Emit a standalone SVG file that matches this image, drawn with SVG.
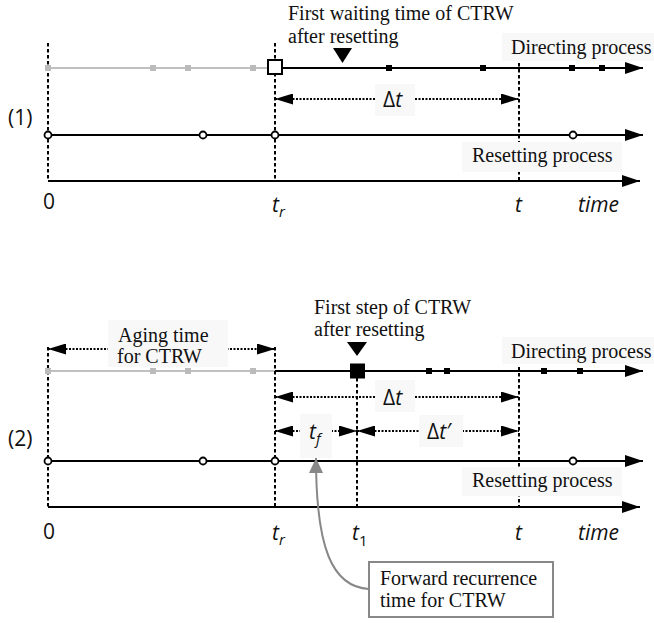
<svg xmlns="http://www.w3.org/2000/svg" width="654" height="623" viewBox="0 0 654 623">
<style>
.serif{font-family:"Liberation Serif","Times New Roman",serif;font-size:20px;fill:#111}
.sans{font-family:"Open Sans","Liberation Sans",sans-serif;font-size:21px;fill:#111}
.it{font-style:italic}
.main{stroke:#000;stroke-width:2;fill:none}
.gray{stroke:#c0c0c0;stroke-width:2;fill:none}
.dash{stroke:#000;stroke-width:2;stroke-dasharray:3.5 2.5;fill:none}
.dot{stroke:#000;stroke-width:1.8;stroke-dasharray:2 1.5;fill:none;marker-start:url(#arrd);marker-end:url(#arrd)}
.bg{fill:#f8f8f8}
.sq{fill:#000}
.gsq{fill:#bbb}
.circ{fill:#fff;stroke:#000;stroke-width:1.8}
</style>
<defs>
<marker id="arr" markerUnits="userSpaceOnUse" markerWidth="18" markerHeight="12" refX="18" refY="6" orient="auto"><path d="M0,0 L18,6 L0,12 z" fill="#000"/></marker>
<marker id="arrd" markerUnits="userSpaceOnUse" markerWidth="18" markerHeight="11" refX="18" refY="5.5" orient="auto-start-reverse"><path d="M0,0 L18,5.5 L0,11 z" fill="#000"/></marker>
<marker id="arrg" markerUnits="userSpaceOnUse" markerWidth="15" markerHeight="14" refX="15" refY="7" orient="auto"><path d="M0,0 L15,7 L0,14 z" fill="#888"/></marker>
</defs>
<rect width="654" height="623" fill="#fff"/>

<!-- Panel 1 -->
<g id="panel1-guides">
<line class="dash" x1="48" y1="43" x2="48" y2="181"/>
<line class="dash" x1="275" y1="43" x2="275" y2="181"/>
<line class="dash" x1="519" y1="63" x2="519" y2="181"/>
</g>
<g id="p1-labels-bg">
<rect class="bg" x="502" y="33" width="152" height="28"/>
<rect class="bg" x="462" y="142" width="160" height="30"/>
</g>
<g id="connectors">
<line class="gray" x1="48" y1="68" x2="268" y2="68"/>
<line class="main" x1="282" y1="68" x2="643" y2="68" marker-end="url(#arr)"/>
<line class="main" x1="48" y1="135" x2="643" y2="135" marker-end="url(#arr)"/>
<line class="main" x1="48" y1="181" x2="640" y2="181" marker-end="url(#arr)"/>
<line class="dot" x1="275" y1="99" x2="519" y2="99"/>

<line class="gray" x1="48" y1="371" x2="275" y2="371"/>
<line class="main" x1="275" y1="371" x2="643" y2="371" marker-end="url(#arr)"/>
<line class="main" x1="48" y1="461" x2="643" y2="461" marker-end="url(#arr)"/>
<line class="main" x1="48" y1="507" x2="640" y2="507" marker-end="url(#arr)"/>
<line class="dot" x1="48" y1="349" x2="275" y2="349"/>
<line class="dot" x1="275" y1="397" x2="519" y2="397"/>
<line class="dot" x1="275" y1="431" x2="357" y2="431"/>
<line class="dot" x1="357" y1="431" x2="519" y2="431"/>
<path d="M369,589 C332,587 316,548 316,458" stroke="#888" stroke-width="2" fill="none" marker-end="url(#arrg)"/>
</g>

<g id="panel2-guides">
<line class="dash" x1="48" y1="347" x2="48" y2="507"/>
<line class="dash" x1="275" y1="347" x2="275" y2="507"/>
<line class="dash" x1="519" y1="367" x2="519" y2="507"/>
<line class="dash" x1="357" y1="378" x2="357" y2="507"/>
</g>

<g id="p1-directing">
<rect class="gsq" x="45" y="65" width="6" height="6"/>
<rect class="gsq" x="150" y="65" width="6" height="6"/>
<rect class="gsq" x="185" y="65" width="6" height="6"/>
<rect class="gsq" x="250" y="65" width="6" height="6"/>
<rect x="268" y="60" width="14" height="14" fill="#fff" stroke="#000" stroke-width="2"/>
<rect class="sq" x="386" y="65" width="6" height="6"/>
<rect class="sq" x="480" y="65" width="6" height="6"/>
<rect class="sq" x="569" y="65" width="6" height="6"/>
<rect class="sq" x="599" y="65" width="6" height="6"/>
<path d="M333,48 L352,48 L342.5,63 z" fill="#000"/>
</g>
<g id="p1-resetting">
<circle class="circ" cx="48" cy="135" r="3.5"/>
<circle class="circ" cx="203" cy="135" r="3.5"/>
<circle class="circ" cx="275" cy="135" r="3.5"/>
<circle class="circ" cx="573" cy="135" r="3.5"/>
</g>
<g id="p1-texts">
<text class="serif" x="288" y="20" font-size="20.5">First waiting time of CTRW</text>
<text class="serif" x="288" y="43" font-size="20.5">after resetting</text>
<text class="serif" x="511" y="54">Directing process</text>
<rect class="bg" x="375" y="84" width="40" height="32"/>
<text class="sans" x="383" y="107" font-size="23">Δ<tspan class="it">t</tspan></text>
<text class="serif" x="472" y="162">Resetting process</text>
<text class="sans" x="8" y="125" font-size="22">(1)</text>
<text class="sans" x="43" y="209">0</text>
<text class="sans it" x="272" y="212">t<tspan font-size="15" dy="5">r</tspan></text>
<text class="sans it" x="515" y="212">t</text>
<text class="sans it" x="578" y="212">time</text>
</g>

<!-- Panel 2 -->
<g id="p2-directing">
<rect class="gsq" x="45" y="368" width="6" height="6"/>
<rect class="gsq" x="150" y="368" width="6" height="6"/>
<rect class="gsq" x="185" y="368" width="6" height="6"/>
<rect class="gsq" x="250" y="368" width="6" height="6"/>
<rect class="sq" x="350" y="363.5" width="15" height="15"/>
<rect class="sq" x="426" y="368" width="6" height="6"/>
<rect class="sq" x="444" y="368" width="6" height="6"/>
<rect class="sq" x="541" y="368" width="6" height="6"/>
<rect class="sq" x="577" y="368" width="6" height="6"/>
<path d="M347,342 L367,342 L357,356 z" fill="#000"/>
</g>
<g id="p2-resetting">
<circle class="circ" cx="48" cy="461" r="3.5"/>
<circle class="circ" cx="203" cy="461" r="3.5"/>
<circle class="circ" cx="275" cy="461" r="3.5"/>
<circle class="circ" cx="573" cy="461" r="3.5"/>
</g>
<g id="p2-texts">
<rect class="bg" x="108" y="320" width="120" height="47"/>
<text class="serif" x="118" y="342">Aging time</text>
<text class="serif" x="117" y="363">for CTRW</text>
<text class="serif" x="314" y="314">First step of CTRW</text>
<text class="serif" x="314" y="336">after resetting</text>
<rect class="bg" x="502" y="337" width="152" height="27"/>
<text class="serif" x="511" y="358">Directing process</text>
<rect class="bg" x="375" y="380" width="40" height="32"/>
<text class="sans" x="383" y="405" font-size="23">Δ<tspan class="it">t</tspan></text>
<rect class="bg" x="300" y="414" width="32" height="44"/>
<text class="sans it" x="309" y="439" font-size="23">t<tspan font-size="15" dy="5">f</tspan></text>
<rect class="bg" x="419" y="415" width="44" height="32"/>
<text class="sans" x="427" y="439" font-size="23">Δ<tspan class="it">t′</tspan></text>
<rect class="bg" x="462" y="467" width="160" height="29"/>
<text class="serif" x="472" y="487">Resetting process</text>
<text class="sans" x="8" y="446" font-size="22">(2)</text>
<text class="sans" x="43" y="539">0</text>
<text class="sans it" x="272" y="540">t<tspan font-size="15" dy="5">r</tspan></text>
<text class="sans it" x="352" y="540">t<tspan font-size="15" dy="6" font-style="normal">1</tspan></text>
<text class="sans it" x="515" y="540">t</text>
<text class="sans it" x="578" y="540">time</text>
</g>
<g id="callout">
<rect x="369" y="562" width="184" height="55" fill="#fff" stroke="#888" stroke-width="2"/>
<text class="serif" x="380" y="585">Forward recurrence</text>
<text class="serif" x="380" y="607">time for CTRW</text>
</g>
</svg>
